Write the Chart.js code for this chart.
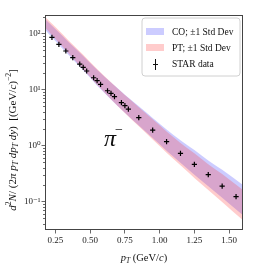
<!DOCTYPE html>
<html><head><meta charset="utf-8">
<script src="https://cdn.jsdelivr.net/npm/chart.js@4"></script>
<style>html,body{margin:0;padding:0;background:#fff}#wrap{width:254px;height:278px}</style>
</head><body><div id="wrap"><canvas id="c" width="254" height="278"></canvas></div>
<script>
// STAR data (pi-)
const starPT = [0.225,0.275,0.325,0.375,0.425,0.45,0.475,0.525,0.55,0.575,0.625,0.65,0.675,0.725,0.75,0.775,0.85,0.95,1.05,1.15,1.25,1.35,1.45,1.55];
const starY  = [85.5,64,48.7,37,28.5,24.9,21.4,16.2,14.4,12.4,9.5,8.55,7.44,5.81,5.14,4.48,3.14,1.89,1.17,0.726,0.462,0.301,0.189,0.122];
// model bands
const bandPT  = [0.175,0.25,0.35,0.45,0.55,0.65,0.75,0.85,0.95,1.05,1.15,1.25,1.35,1.45,1.6];
const coUpper = [182,120,68.5,39.8,22.6,13.3,8.1,5.02,3.11,1.94,1.24,0.828,0.541,0.370,0.197];
const coLower = [117,73.5,40.0,22.0,11.8,6.65,3.85,2.28,1.36,0.809,0.493,0.301,0.1875,0.117,0.0569];
const ptUpper = [200,130,73.0,41.6,23.2,13.45,7.95,4.83,2.93,1.786,1.114,0.728,0.465,0.310,0.160];
const ptLower = [128,79.5,42.6,23.0,12.2,6.72,3.80,2.20,1.28,0.745,0.444,0.264,0.161,0.0982,0.0462];
// ticks
const xTicks = [0.25,0.50,0.75,1.00,1.25,1.50];
const yTicks = [0.1,1,10,100];
const yTickLabels = ['10\u207B\u00B9','10\u2070','10\u00B9','10\u00B2'];
const legendLabels = ['CO; \u00B11 Std Dev','PT; \u00B11 Std Dev','STAR data'];

const FONT = '"Liberation Serif", "DejaVu Serif", serif';
const CO_FILL = 'rgba(40,40,255,0.24)';
const PT_FILL = 'rgba(255,40,40,0.24)';

const zip = (xs, ys) => xs.map((x,i)=>({x, y: ys[i]}));

function segW(ctx, s, size){
  const fs = (s.sub||s.sup) ? size*0.7 : size;
  ctx.font = (s.i?'italic ':'') + fs + 'px ' + FONT;
  return ctx.measureText(s.t).width;
}
function drawRich(ctx, segs, size, x, y, rot){
  ctx.save();
  ctx.translate(x,y); ctx.rotate(rot||0);
  let total = 0; segs.forEach(s=> total += segW(ctx,s,size));
  let cx = -total/2;
  ctx.textBaseline = 'alphabetic'; ctx.textAlign = 'left'; ctx.fillStyle = '#111';
  segs.forEach(s=>{
    const w = segW(ctx,s,size);
    const dy = s.sub ? size*0.22 : (s.sup ? -size*0.42 : 0);
    ctx.fillText(s.t, cx, dy);
    cx += w;
  });
  ctx.restore();
}

const yTitle = [
  {t:'d',i:1},{t:'2',sup:1},{t:'N',i:1},{t:'/',i:0},{t:' (2',i:0},{t:'\u03C0',i:1},{t:' p',i:1},{t:'T',i:1,sub:1},
  {t:' dp',i:1},{t:'T',i:1,sub:1},{t:' dy',i:1},{t:')',i:0},{t:'  [(GeV/',i:0},{t:'c',i:1},{t:')',i:0},{t:'\u22122',sup:1},{t:']',i:0}
];
const xTitle = [{t:'p',i:1},{t:'T',i:1,sub:1},{t:' (GeV/',i:0},{t:'c',i:1},{t:')',i:0}];

const deco = {
  id:'deco',
  afterDraw(chart){
    const ctx = chart.ctx, a = chart.chartArea;
    const xs = chart.scales.x, ys = chart.scales.y;
    // minor ticks on log axis
    ctx.save();
    ctx.strokeStyle = '#444'; ctx.lineWidth = 0.8;
    for (let n=-2;n<=2;n++){
      for (let k=2;k<=9;k++){
        const v = k*Math.pow(10,n);
        if (v < ys.min || v > ys.max) continue;
        const py = Math.round(ys.getPixelForValue(v))+0.5;
        ctx.beginPath(); ctx.moveTo(a.left-2, py); ctx.lineTo(a.left, py); ctx.stroke();
      }
    }
    // frame
    ctx.strokeStyle = '#444'; ctx.lineWidth = 1;
    ctx.strokeRect(Math.round(a.left)+0.5, Math.round(a.top)+0.5, Math.round(a.right-a.left)-1, Math.round(a.bottom-a.top)-1);
    ctx.restore();

    // pi- label
    ctx.save();
    ctx.fillStyle = '#111';
    ctx.font = 'italic 24px ' + FONT;
    ctx.textBaseline = 'alphabetic';
    const px = xs.getPixelForValue(0.60), py = ys.getPixelForValue(1.0);
    ctx.fillText('\u03C0', px, py);
    const w = ctx.measureText('\u03C0').width;
    ctx.font = '14px ' + FONT;
    ctx.fillText('\u2212', px + w - 1, py - 12);
    ctx.restore();

    // legend
    ctx.save();
    const bx = 142, by = 18, bw = 98, bh = 58, r = 3;
    ctx.fillStyle = 'rgba(255,255,255,0.85)';
    ctx.strokeStyle = '#d0d0d0'; ctx.lineWidth = 1;
    ctx.beginPath();
    ctx.moveTo(bx+r,by); ctx.lineTo(bx+bw-r,by); ctx.quadraticCurveTo(bx+bw,by,bx+bw,by+r);
    ctx.lineTo(bx+bw,by+bh-r); ctx.quadraticCurveTo(bx+bw,by+bh,bx+bw-r,by+bh);
    ctx.lineTo(bx+r,by+bh); ctx.quadraticCurveTo(bx,by+bh,bx,by+bh-r);
    ctx.lineTo(bx,by+r); ctx.quadraticCurveTo(bx,by,bx+r,by); ctx.closePath();
    ctx.fill(); ctx.stroke();
    ctx.fillStyle = CO_FILL; ctx.fillRect(146, 28, 18, 7);
    ctx.fillStyle = PT_FILL; ctx.fillRect(146, 44, 18, 7);
    ctx.strokeStyle = '#111'; ctx.lineWidth = 1;
    ctx.beginPath(); ctx.moveTo(155.5, 59); ctx.lineTo(155.5, 70);
    ctx.moveTo(153, 64.5); ctx.lineTo(158, 64.5); ctx.stroke();
    ctx.fillStyle = '#111'; ctx.font = '9.5px ' + FONT; ctx.textBaseline = 'middle';
    ctx.fillText(legendLabels[0], 172, 32);
    ctx.fillText(legendLabels[1], 172, 48);
    ctx.fillText(legendLabels[2], 172, 64.5);
    ctx.restore();

    // axis titles
    drawRich(ctx, xTitle, 10.5, (a.left+a.right)/2, 261, 0);
    drawRich(ctx, yTitle, 11, 16, 140, -Math.PI/2);
  }
};

new Chart(document.getElementById('c'), {
  type: 'line',
  data: {
    datasets: [
      {label:'STAR data', type:'scatter', data: zip(starPT, starY), showLine:false,
       pointStyle:'cross', pointRadius:2.6, borderColor:'#000', backgroundColor:'#000', borderWidth:1.2, order:0},
      {label:'PT upper', data: zip(bandPT, ptUpper), fill:'+1', backgroundColor: PT_FILL, borderWidth:0, pointRadius:0, cubicInterpolationMode:'monotone', order:1},
      {label:'PT lower', data: zip(bandPT, ptLower), fill:false, borderWidth:0, pointRadius:0, cubicInterpolationMode:'monotone', order:1},
      {label:'CO upper', data: zip(bandPT, coUpper), fill:'+1', backgroundColor: CO_FILL, borderWidth:0, pointRadius:0, cubicInterpolationMode:'monotone', order:2},
      {label:'CO lower', data: zip(bandPT, coLower), fill:false, borderWidth:0, pointRadius:0, cubicInterpolationMode:'monotone', order:2}
    ]
  },
  options: {
    responsive:false, animation:false, devicePixelRatio:1,
    layout:{padding:{top:15,right:11,left:0,bottom:0}},
    plugins:{legend:{display:false}, tooltip:{enabled:false}},
    scales:{
      x:{type:'linear', min:0.175, max:1.6,
        grid:{display:true, drawOnChartArea:false, tickLength:3.5, tickColor:'#444', tickWidth:0.8},
        border:{display:false},
        ticks:{font:{family:FONT,size:9}, color:'#222', padding:2, maxRotation:0, callback:(v)=>v.toFixed(2)},
        afterBuildTicks:(s)=>{ s.ticks = xTicks.map(v=>({value:v})); },
        afterFit:(s)=>{ s.height = 48; }
      },
      y:{type:'logarithmic', min:0.031, max:214,
        grid:{display:true, drawOnChartArea:false, tickLength:3.5, tickColor:'#444', tickWidth:0.8},
        border:{display:false},
        ticks:{font:{family:FONT,size:9}, color:'#222', padding:1,
          callback:(v)=>{ const i = yTicks.findIndex(t=>Math.abs(t-v)/t<1e-6); return i>=0 ? yTickLabels[i] : ''; }},
        afterBuildTicks:(s)=>{ s.ticks = yTicks.map(v=>({value:v, major:true})); },
        afterFit:(s)=>{ s.width = 45; }
      }
    }
  },
  plugins:[deco]
});
</script>
</body></html>
